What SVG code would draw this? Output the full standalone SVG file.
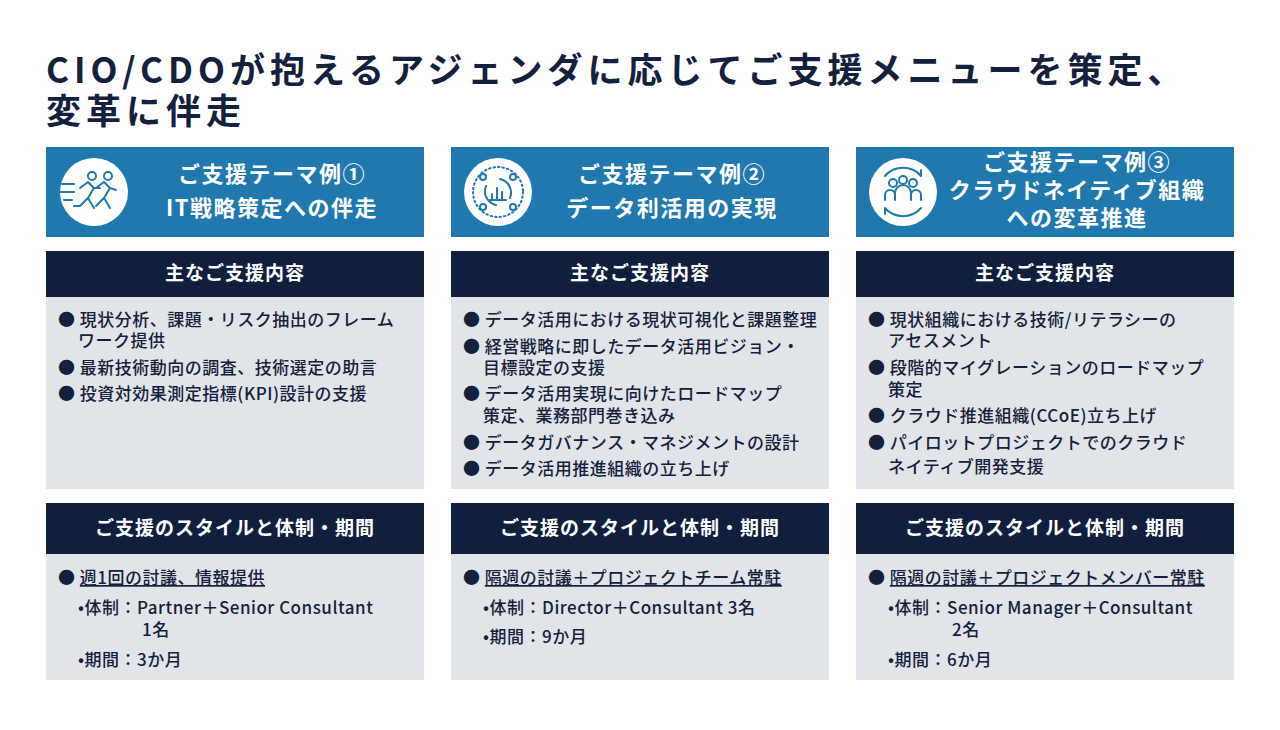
<svg xmlns="http://www.w3.org/2000/svg" width="1280" height="730" viewBox="0 0 1280 730">
<style>
text{font-family:"Noto Sans CJK JP","Noto Sans",sans-serif;}
.t{font-size:35px;font-weight:700;fill:#14213d;letter-spacing:5px}
.hb{fill:#1f78ae}
.hd{fill:#0f1f3d}
.bx{fill:#e1e5ea}
.ht{font-size:22px;font-weight:700;fill:#fff;text-anchor:middle;letter-spacing:1.5px}
.dt{font-size:19px;font-weight:700;fill:#fff;text-anchor:middle;letter-spacing:1px}
.b{font-size:17px;font-weight:500;fill:#14213d;letter-spacing:0.5px}
.ic{fill:none;stroke:#1f78ae;stroke-width:2;stroke-linecap:round;stroke-linejoin:round}
</style>
<rect width="1280" height="730" fill="#fff"/>
<text class="t" x="46" y="83">CIO/CDOが抱えるアジェンダに応じてご支援メニューを策定、</text>
<text class="t" x="46" y="124">変革に伴走</text>

<g id="col1">
<rect class="hb" x="46" y="147" width="378" height="90"/>
<circle cx="94" cy="192" r="34" fill="#fff"/>
<g class="ic"><circle cx="92" cy="176" r="4"/><circle cx="108" cy="176" r="4"/>
<path d="M80 188l8-6 6 6-6 10 6 10M88 198l-8 8-6 0M94 188l6 0M96 188l8-6 6 6-6 10 6 10M104 198l-8 8M110 188l6 2M62 184h12M60 192h14M64 200h8"/></g>
<text class="ht" x="272" y="182">ご支援テーマ例①</text>
<text class="ht" x="272" y="216">IT戦略策定への伴走</text>
<rect class="hd" x="46" y="251" width="378" height="46"/>
<text class="dt" x="235" y="280">主なご支援内容</text>
<rect class="bx" x="46" y="297" width="378" height="192"/>
<g class="b">
<text x="58" y="326">● 現状分析、課題・リスク抽出のフレーム</text>
<text x="78" y="347">ワーク提供</text>
<text x="58" y="374">● 最新技術動向の調査、技術選定の助言</text>
<text x="58" y="400">● 投資対効果測定指標(KPI)設計の支援</text>
</g>
<rect class="hd" x="46" y="503" width="378" height="51"/>
<text class="dt" x="235" y="535">ご支援のスタイルと体制・期間</text>
<rect class="bx" x="46" y="554" width="378" height="126"/>
<g class="b">
<text x="58" y="584">● <tspan text-decoration="underline">週1回の討議、情報提供</tspan></text>
<text x="78" y="614">•体制：Partner＋Senior Consultant</text>
<text x="142" y="636">1名</text>
<text x="78" y="666">•期間：3か月</text>
</g>
</g>

<g id="col2">
<rect class="hb" x="451" y="147" width="378" height="90"/>
<circle cx="498" cy="192" r="34" fill="#fff"/>
<g class="ic"><circle cx="498" cy="192" r="25" stroke-dasharray="1.5 3"/><circle cx="483" cy="177" r="3"/><circle cx="513" cy="177" r="3"/><circle cx="483" cy="207" r="3"/><circle cx="513" cy="207" r="3"/>
<path d="M486 186a14 14 0 0 0 10 19M510 198a14 14 0 0 0-10-19M492 200v-6M497 200v-12M502 200v-8M490 200h16"/></g>
<text class="ht" x="672" y="182">ご支援テーマ例②</text>
<text class="ht" x="672" y="216">データ利活用の実現</text>
<rect class="hd" x="451" y="251" width="378" height="46"/>
<text class="dt" x="640" y="280">主なご支援内容</text>
<rect class="bx" x="451" y="297" width="378" height="192"/>
<g class="b">
<text x="463" y="326">● データ活用における現状可視化と課題整理</text>
<text x="463" y="353">● 経営戦略に即したデータ活用ビジョン・</text>
<text x="483" y="374">目標設定の支援</text>
<text x="463" y="400">● データ活用実現に向けたロードマップ</text>
<text x="483" y="422">策定、業務部門巻き込み</text>
<text x="463" y="449">● データガバナンス・マネジメントの設計</text>
<text x="463" y="475">● データ活用推進組織の立ち上げ</text>
</g>
<rect class="hd" x="451" y="503" width="378" height="51"/>
<text class="dt" x="640" y="535">ご支援のスタイルと体制・期間</text>
<rect class="bx" x="451" y="554" width="378" height="126"/>
<g class="b">
<text x="463" y="584">● <tspan text-decoration="underline">隔週の討議＋プロジェクトチーム常駐</tspan></text>
<text x="483" y="614">•体制：Director＋Consultant 3名</text>
<text x="483" y="643">•期間：9か月</text>
</g>
</g>

<g id="col3">
<rect class="hb" x="856" y="147" width="378" height="90"/>
<circle cx="903" cy="192" r="34" fill="#fff"/>
<g class="ic"><circle cx="893" cy="183" r="4"/><circle cx="903" cy="180" r="4"/><circle cx="913" cy="183" r="4"/>
<path d="M885 200v-5a5 5 0 0 1 10 0M895 200v-7a8 8 0 0 1 16 0v7M911 195a5 5 0 0 1 10 0v5M885 176a24 24 0 0 1 36 0l0-6M921 208a24 24 0 0 1-36 0l0 6"/></g>
<text class="ht" x="1077" y="170">ご支援テーマ例③</text>
<text class="ht" x="1077" y="198">クラウドネイティブ組織</text>
<text class="ht" x="1077" y="226">への変革推進</text>
<rect class="hd" x="856" y="251" width="378" height="46"/>
<text class="dt" x="1045" y="280">主なご支援内容</text>
<rect class="bx" x="856" y="297" width="378" height="192"/>
<g class="b">
<text x="868" y="326">● 現状組織における技術/リテラシーの</text>
<text x="888" y="347">アセスメント</text>
<text x="868" y="374">● 段階的マイグレーションのロードマップ</text>
<text x="888" y="396">策定</text>
<text x="868" y="422">● クラウド推進組織(CCoE)立ち上げ</text>
<text x="868" y="449">● パイロットプロジェクトでのクラウド</text>
<text x="888" y="473">ネイティブ開発支援</text>
</g>
<rect class="hd" x="856" y="503" width="378" height="51"/>
<text class="dt" x="1045" y="535">ご支援のスタイルと体制・期間</text>
<rect class="bx" x="856" y="554" width="378" height="126"/>
<g class="b">
<text x="868" y="584">● <tspan text-decoration="underline">隔週の討議＋プロジェクトメンバー常駐</tspan></text>
<text x="888" y="614">•体制：Senior Manager＋Consultant</text>
<text x="952" y="636">2名</text>
<text x="888" y="666">•期間：6か月</text>
</g>
</g>
<g id="connectors"/>
</svg>
